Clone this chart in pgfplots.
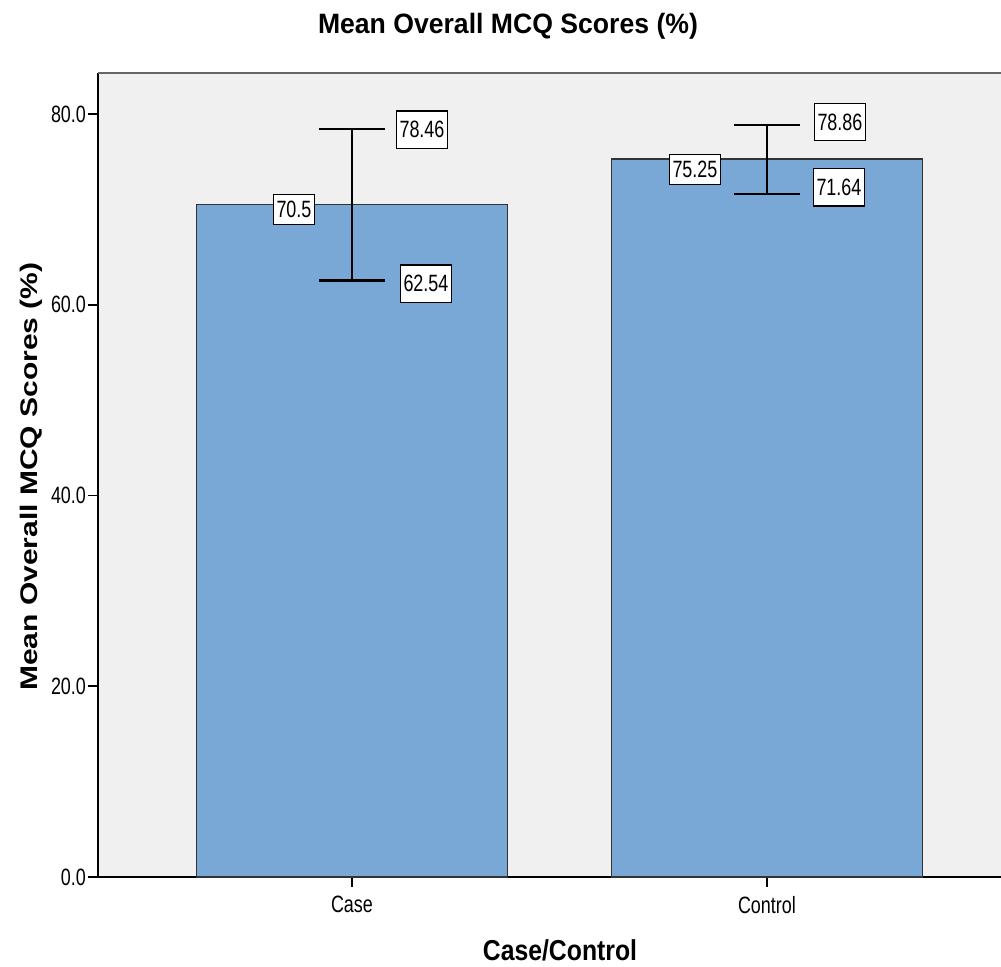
\documentclass[border=0pt]{standalone}
\usepackage{pgfplots}
\pgfplotsset{compat=1.18}
\usepackage{fontspec}
\setmainfont{Liberation Sans}
\newfontfamily\narrowf{Liberation Sans}[FakeStretch=0.76]
\newfontfamily\titlef{Liberation Sans}[FakeStretch=0.95]
\newfontfamily\xlabf{Liberation Sans}[FakeStretch=0.86]
\definecolor{bgc}{HTML}{F0F0F0}
\definecolor{barc}{HTML}{7AA8D6}
\definecolor{edgec}{HTML}{333333}
\newcommand{\labf}{\narrowf\fontsize{11.8}{13}\selectfont}
\newcommand{\tickf}{\narrowf\fontsize{11.8}{13}\selectfont}
\pgfplotsset{lab/.style n args={3}{draw=none, mark=none, forget plot, nodes near coords, point meta=explicit symbolic,
  nodes near coords style={anchor=center, xshift=#1, yshift=#2, draw=black, line width=0.6pt, fill=white, text=black, font=\labf, inner xsep=1.4pt, inner ysep=#3}}}
\begin{document}
\begin{tikzpicture}
\begin{axis}[name=ax, at={(0,0)}, anchor=south west, scale only axis,
  width=451.5pt, height=402pt,
  xmin=-0.612, xmax=1.564, ymin=0, ymax=84.3,
  axis x line*=bottom, axis y line*=left,
  axis line style={line width=0.9pt, black, -},
  axis background/.style={fill=bgc},
  xtick={0,1}, xticklabels={Case,Control}, ytick={0,20,40,60,80},
  tick align=outside, major tick length=5pt, tick style={line width=0.9pt, black},
  yticklabel={\pgfmathprintnumber[fixed,fixed zerofill,precision=1]{\tick}},
  /pgf/number format/assume math mode=true,
  ticklabel style={font=\tickf},
  yticklabel style={xshift=2.5pt},
  xticklabel style={yshift=-1pt},
  title={\titlef\bfseries\fontsize{14}{16}\selectfont Mean Overall MCQ Scores (\%)},
  title style={at={(0.454,1)}, anchor=center, yshift=17.5pt},
  xlabel={\xlabf\bfseries\fontsize{14.4}{16}\selectfont Case/Control},
  xlabel style={at={(0.5116,0)}, anchor=center, yshift=-36.5pt},
  ylabel={\scalebox{1}[0.8]{\bfseries\fontsize{15}{17}\selectfont Mean Overall MCQ Scores (\%)}},
  ylabel style={at={(0,0.498)}, anchor=center, yshift=33.5pt},
  clip=false,
]
\addplot[ybar, bar width=155.5pt, bar shift=0pt, fill=barc, draw=edgec, line width=0.8pt] coordinates {(0,70.5) (1,75.25)};
\addplot[draw=none, mark=none, forget plot,
  error bars/.cd, y dir=both, y explicit,
  error bar style={draw=black, line width=0.9pt},
  error mark options={draw=black, line width=1.1pt, mark size=16.5pt, rotate=90}]
  coordinates {(0,70.5) +- (0,7.96) (1,75.25) +- (0,3.61)};
\addplot[lab={-29pt}{-2.6pt}{3.3pt}] coordinates {(0,70.5) [70.5]};
\addplot[lab={-36pt}{-5.2pt}{3.3pt}] coordinates {(1,75.25) [75.25]};
\addplot[lab={35pt}{-0.5pt}{5.2pt}] coordinates {(0,78.46) [78.46]};
\addplot[lab={36.5pt}{1.4pt}{5.2pt}] coordinates {(1,78.86) [78.86]};
\addplot[lab={37pt}{-1.6pt}{5.2pt}] coordinates {(0,62.54) [62.54]};
\addplot[lab={36pt}{3.2pt}{5.2pt}] coordinates {(1,71.64) [71.64]};
\end{axis}
\draw[line width=0.9pt, black!60] (ax.north west) -- (ax.north east);
\pgfresetboundingbox
\path ([xshift=-49pt,yshift=-45pt]ax.south west) rectangle ([yshift=36.5pt]ax.north east);
\end{tikzpicture}
\end{document}
